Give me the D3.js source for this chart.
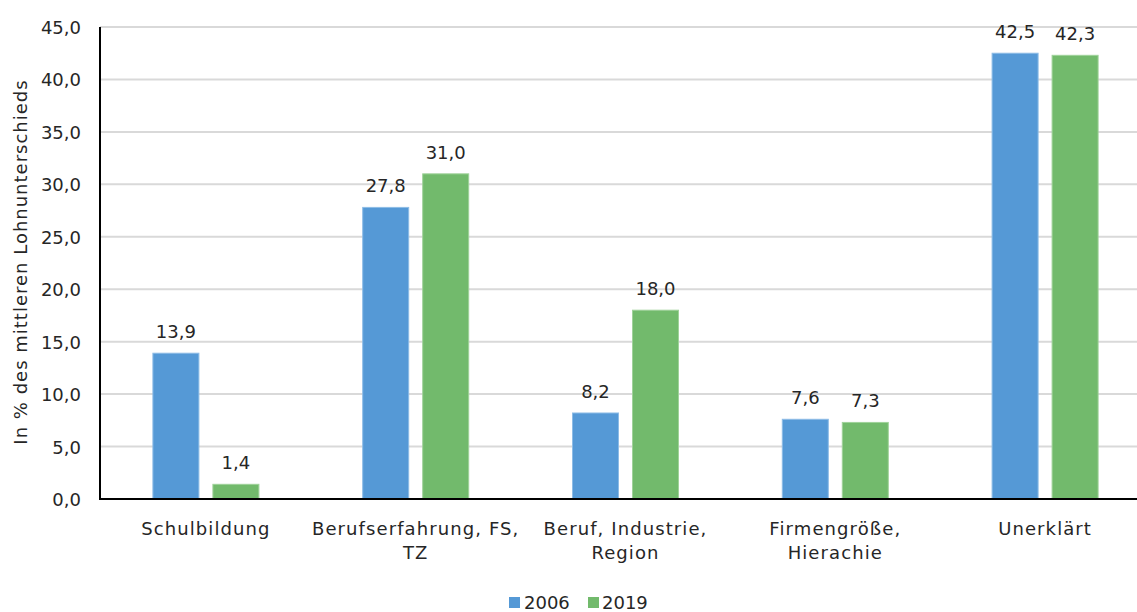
<!DOCTYPE html>
<html>
<head>
<meta charset="utf-8">
<script src="https://cdn.jsdelivr.net/npm/d3@7"></script>
<style>
  html, body { margin: 0; padding: 0; background: #fff; }
  svg { display: block; font-family: "DejaVu Sans", sans-serif; }
</style>
</head>
<body>
<svg id="chart" width="1137" height="612"></svg>
<script>
// Decomposition of the wage gap (share of the mean wage difference, %)
const categories = [
  "Schulbildung",
  "Berufserfahrung, FS,\nTZ",
  "Beruf, Industrie,\nRegion",
  "Firmengröße,\nHierachie",
  "Unerklärt"
];
const seriesNames = ["2006", "2019"];
const values2006 = [13.9, 27.8, 8.2, 7.6, 42.5];
const values2019 = [1.4, 31.0, 18.0, 7.3, 42.3];
const yTicks = [0, 5, 10, 15, 20, 25, 30, 35, 40, 45];
const colors = ["#5599d6", "#72ba6c"];
const strokes = ["#8dbce6", "#9fd29a"];

const fmt = v => d3.format(".1f")(v).replace(".", ",");
const textColor = "#262626";

const svg = d3.select("#chart");

const plot = { left: 100, right: 1150, top: 27, bottom: 499 };

const y = d3.scaleLinear().domain([0, 45]).range([plot.bottom, plot.top]);
const x0 = d3.scaleBand().domain(categories).range([plot.left + 1, plot.right]).padding(0);
const x1 = d3.scaleBand().domain(seriesNames).range([0, 106]).paddingInner(0.2333).paddingOuter(0);

// Horizontal grid
svg.append("g")
  .selectAll("line")
  .data(yTicks.filter(t => t > 0))
  .join("line")
  .attr("x1", plot.left)
  .attr("x2", 1137)
  .attr("y1", d => y(d))
  .attr("y2", d => y(d))
  .attr("stroke", "#d9d9d9")
  .attr("stroke-width", 2);

// Y axis tick labels
const yAxis = d3.axisLeft(y).tickValues(yTicks).tickFormat(fmt).tickSize(0).tickPadding(19);
const gy = svg.append("g").attr("transform", `translate(${plot.left},0)`).call(yAxis);
gy.select(".domain").remove();
gy.selectAll("text")
  .attr("font-size", 18)
  .attr("font-family", "DejaVu Sans, sans-serif")
  .attr("fill", textColor)
  .attr("dy", "0.36em");

// Bars
const series = [values2006, values2019];
const groups = svg.append("g")
  .selectAll("g")
  .data(categories)
  .join("g")
  .attr("transform", d => `translate(${x0(d) + x0.bandwidth() / 2 - 53},0)`);

groups.selectAll("rect")
  .data((d, i) => seriesNames.map((s, k) => ({ s, k, v: series[k][i] })))
  .join("rect")
  .attr("x", d => x1(d.s))
  .attr("width", x1.bandwidth())
  .attr("y", d => y(d.v))
  .attr("height", d => y(0) - y(d.v))
  .attr("fill", d => colors[d.k])
  .attr("stroke", d => strokes[d.k])
  .attr("stroke-width", 1);

// Value labels
groups.selectAll("text.val")
  .data((d, i) => seriesNames.map((s, k) => ({ s, k, v: series[k][i] })))
  .join("text")
  .attr("class", "val")
  .attr("x", d => x1(d.s) + x1.bandwidth() / 2)
  .attr("y", d => y(d.v) - 15)
  .attr("text-anchor", "middle")
  .attr("font-size", 18)
  .attr("fill", textColor)
  .text(d => fmt(d.v));

// Axis lines
svg.append("line")
  .attr("x1", plot.left).attr("x2", plot.left)
  .attr("y1", plot.top).attr("y2", plot.bottom + 1)
  .attr("stroke", "#000").attr("stroke-width", 2);
svg.append("line")
  .attr("x1", plot.left - 1).attr("x2", 1137)
  .attr("y1", plot.bottom).attr("y2", plot.bottom)
  .attr("stroke", "#000").attr("stroke-width", 2);

// Category labels
const catG = svg.append("g")
  .selectAll("text")
  .data(categories)
  .join("text")
  .attr("x", d => x0(d) + x0.bandwidth() / 2)
  .attr("y", 535)
  .attr("text-anchor", "middle")
  .attr("font-size", 18)
  .attr("letter-spacing", 1.1)
  .attr("fill", textColor);
catG.each(function (d) {
  const t = d3.select(this);
  const cx = t.attr("x");
  d.split("\n").forEach((line, i) => {
    t.append("tspan").attr("x", cx).attr("dy", i === 0 ? 0 : 24).text(line);
  });
});

// Y axis title
svg.append("text")
  .attr("transform", "translate(27,262) rotate(-90)")
  .attr("text-anchor", "middle")
  .attr("font-size", 18)
  .attr("letter-spacing", 1.0)
  .attr("fill", textColor)
  .text("In % des mittleren Lohnunterschieds");

// Legend
const legendItems = [
  { name: seriesNames[0], color: colors[0], sx: 509, tx: 524 },
  { name: seriesNames[1], color: colors[1], sx: 588, tx: 602 }
];
const lg = svg.append("g");
lg.selectAll("rect")
  .data(legendItems)
  .join("rect")
  .attr("x", d => d.sx).attr("y", 597)
  .attr("width", 11).attr("height", 11)
  .attr("fill", d => d.color);
lg.selectAll("text")
  .data(legendItems)
  .join("text")
  .attr("x", d => d.tx).attr("y", 609)
  .attr("font-size", 18)
  .attr("fill", textColor)
  .text(d => d.name);
</script>
</body>
</html>
